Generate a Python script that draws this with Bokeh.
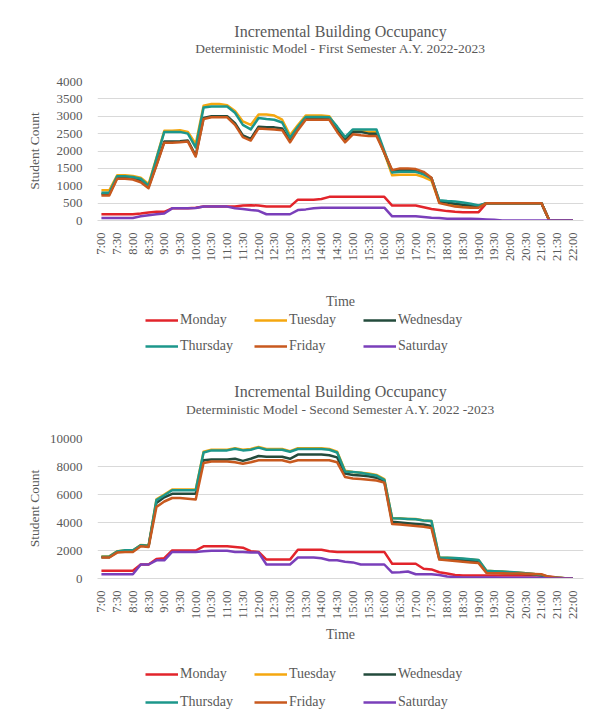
import math
from bokeh.plotting import figure
from bokeh.layouts import column
from bokeh.models import Range1d, FixedTicker, Legend, LegendItem, Label
from bokeh.embed import file_html
from bokeh.resources import INLINE

FONT = "Liberation Serif"
TXT = "#595959"
GRID = "#d9d9d9"

# 15-minute steps from 7:00 (step 0) to 22:00 (step 60)
steps = list(range(61))
tick_steps = list(range(0, 61, 2))
tick_labels = ["7:00", "7:30", "8:00", "8:30", "9:00", "9:30", "10:00", "10:30",
               "11:00", "11:30", "12:00", "12:30", "13:00", "13:30", "14:00", "14:30",
               "15:00", "15:30", "16:00", "16:30", "17:00", "17:30", "18:00", "18:30",
               "19:00", "19:30", "20:00", "20:30", "21:00", "21:30", "22:00"]

days = ["Monday", "Tuesday", "Wednesday", "Thursday", "Friday", "Saturday"]
colors = ["#E2242B", "#F5A70F", "#234B3C", "#1C978B", "#C8591E", "#7A3FBA"]

# ---- First semester ----
s1_monday = [180, 180, 180, 180, 180, 200, 230, 250, 250, 350, 350, 350, 370, 400, 400, 400,
             400, 400, 430, 440, 430, 400, 400, 400, 400, 600, 600, 600, 620, 680, 680, 680,
             680, 680, 680, 680, 680, 430, 430, 430, 430, 380, 330, 300, 270, 250, 240, 240,
             240, 500, 500, 500, 500, 500, 500, 500, 500, 0, 0, 0, 0]
s1_tuesday = [870, 870, 1300, 1300, 1280, 1230, 1050, 1800, 2580, 2580, 2600, 2550, 2200, 3300, 3350, 3350,
              3320, 3150, 2850, 2750, 3050, 3050, 3020, 2900, 2450, 2750, 3020, 3020, 3020, 3000, 2650, 2350,
              2580, 2580, 2550, 2550, 1950, 1300, 1320, 1320, 1320, 1250, 1150, 520, 500, 420, 400, 400,
              400, 500, 500, 500, 500, 500, 500, 500, 500, 0, 0, 0, 0]
s1_wednesday = [760, 760, 1230, 1230, 1220, 1150, 970, 1600, 2270, 2270, 2280, 2300, 1870, 2950, 3000, 3000,
                3000, 2800, 2450, 2350, 2700, 2680, 2680, 2650, 2300, 2650, 2950, 2950, 2950, 2930, 2600, 2300,
                2550, 2550, 2500, 2500, 1950, 1420, 1450, 1450, 1450, 1350, 1220, 550, 520, 480, 450, 430,
                420, 500, 500, 500, 500, 500, 500, 500, 500, 0, 0, 0, 0]
s1_thursday = [800, 800, 1270, 1270, 1250, 1200, 1000, 1780, 2550, 2550, 2550, 2500, 2100, 3250, 3280, 3280,
               3280, 3100, 2750, 2620, 2950, 2920, 2900, 2820, 2380, 2700, 2980, 2980, 2980, 2970, 2700, 2400,
               2620, 2620, 2620, 2620, 2000, 1380, 1400, 1400, 1400, 1330, 1220, 580, 560, 550, 520, 480,
               430, 500, 500, 500, 500, 500, 500, 500, 500, 0, 0, 0, 0]
s1_friday = [720, 720, 1200, 1200, 1180, 1100, 930, 1580, 2240, 2240, 2250, 2270, 1840, 2920, 2970, 2970,
             2970, 2750, 2400, 2300, 2650, 2630, 2620, 2600, 2250, 2600, 2900, 2900, 2900, 2900, 2550, 2250,
             2480, 2450, 2430, 2430, 1950, 1450, 1500, 1500, 1480, 1400, 1230, 500, 450, 400, 380, 370,
             370, 500, 500, 500, 500, 500, 500, 500, 500, 0, 0, 0, 0]
s1_saturday = [70, 70, 70, 70, 70, 120, 150, 180, 200, 350, 350, 350, 360, 400, 400, 400,
               400, 350, 330, 300, 280, 180, 180, 180, 180, 300, 320, 350, 370, 370, 370, 370,
               370, 370, 370, 370, 370, 120, 120, 120, 120, 100, 80, 70, 50, 50, 50, 50,
               40, 30, 20, 0, 0, 0, 0, 0, 0, 0, 0, 0, 0]

# ---- Second semester ----
s2_monday = [550, 550, 550, 550, 550, 1000, 1000, 1400, 1450, 2000, 2000, 2000, 2000, 2300, 2300, 2300,
             2300, 2250, 2200, 1950, 1900, 1350, 1350, 1350, 1350, 2050, 2050, 2050, 2050, 1950, 1900, 1900,
             1900, 1900, 1900, 1900, 1900, 1050, 1050, 1050, 1050, 700, 650, 450, 350, 250, 220, 220,
             220, 220, 220, 220, 220, 220, 220, 220, 220, 150, 80, 0, 0]
s2_tuesday = [1580, 1580, 1950, 2000, 2000, 2400, 2350, 5650, 6000, 6350, 6350, 6350, 6350, 9050, 9200, 9200,
              9200, 9300, 9200, 9250, 9400, 9250, 9250, 9250, 9100, 9300, 9300, 9300, 9300, 9250, 9050, 7700,
              7600, 7550, 7500, 7400, 7100, 4300, 4300, 4250, 4250, 4150, 4100, 1500, 1480, 1450, 1400, 1350,
              1300, 550, 520, 500, 450, 420, 380, 320, 250, 100, 50, 20, 0]
s2_wednesday = [1520, 1520, 1900, 1950, 1950, 2350, 2300, 5400, 5800, 6050, 6050, 6050, 6050, 8450, 8500, 8500,
                8500, 8550, 8400, 8550, 8750, 8700, 8700, 8700, 8550, 8850, 8850, 8850, 8850, 8800, 8650, 7500,
                7400, 7350, 7300, 7200, 6950, 4050, 4000, 3950, 3900, 3850, 3750, 1400, 1380, 1350, 1300, 1250,
                1200, 450, 430, 400, 380, 350, 330, 300, 220, 80, 40, 10, 0]
s2_thursday = [1560, 1560, 1930, 2020, 2020, 2380, 2330, 5600, 5950, 6300, 6300, 6300, 6300, 9000, 9150, 9150,
               9150, 9270, 9150, 9200, 9350, 9200, 9200, 9200, 9050, 9250, 9250, 9250, 9250, 9200, 9000, 7650,
               7600, 7550, 7450, 7350, 7050, 4300, 4280, 4250, 4230, 4150, 4100, 1500, 1480, 1460, 1420, 1380,
               1320, 550, 520, 500, 460, 420, 380, 320, 250, 100, 50, 20, 0]
s2_friday = [1500, 1500, 1850, 1900, 1900, 2300, 2250, 5100, 5500, 5750, 5750, 5700, 5650, 8250, 8350, 8350,
             8350, 8300, 8200, 8300, 8450, 8450, 8450, 8450, 8300, 8450, 8450, 8450, 8450, 8450, 8300, 7250,
             7150, 7100, 7050, 7000, 6850, 3900, 3850, 3800, 3750, 3700, 3600, 1350, 1300, 1250, 1200, 1150,
             1100, 400, 380, 370, 360, 350, 340, 320, 300, 100, 50, 20, 0]
s2_saturday = [300, 300, 300, 300, 300, 1000, 1000, 1300, 1300, 1900, 1900, 1900, 1900, 1950, 1980, 1980,
               1980, 1900, 1900, 1850, 1850, 1000, 1000, 1000, 1000, 1500, 1500, 1500, 1450, 1300, 1300, 1200,
               1150, 1000, 1000, 1000, 1000, 420, 450, 500, 300, 300, 300, 250, 150, 100, 80, 80,
               80, 80, 80, 50, 50, 50, 50, 50, 30, 0, 0, 0, 0]

sem1 = [s1_monday, s1_tuesday, s1_wednesday, s1_thursday, s1_friday, s1_saturday]
sem2 = [s2_monday, s2_tuesday, s2_wednesday, s2_thursday, s2_friday, s2_saturday]

LEFT, RIGHT = 97, 18   # frames of all stacked figures share these borders


def blank(height):
    q = figure(width=601, height=height, output_backend="svg", toolbar_location=None,
               x_range=Range1d(0, 601), y_range=Range1d(0, height),
               min_border=0)
    q.axis.visible = False
    q.grid.visible = False
    q.outline_line_color = None
    q.background_fill_color = "white"
    q.border_fill_color = "white"
    return q


def make_title(height, title, subtitle, title_y, subtitle_y):
    q = blank(height)
    q.add_layout(Label(x=300.5, y=height - title_y, text=title, text_align="center",
                       text_baseline="middle", text_font=FONT, text_font_size="16px",
                       text_color=TXT))
    q.add_layout(Label(x=300.5, y=height - subtitle_y, text=subtitle, text_align="center",
                       text_baseline="middle", text_font=FONT, text_font_size="13.5px",
                       text_color=TXT))
    return q


def make_chart(series, ymax, yticks, height, top, bottom, time_standoff, ylab_standoff):
    p = figure(width=601, height=height, output_backend="svg", toolbar_location=None,
               x_range=Range1d(-0.5, 61.35), y_range=Range1d(0, ymax),
               min_border_left=LEFT, min_border_right=RIGHT,
               min_border_top=top, min_border_bottom=bottom)
    p.outline_line_color = None
    p.background_fill_color = "white"
    p.border_fill_color = "white"

    p.xgrid.grid_line_color = None
    p.ygrid.grid_line_color = GRID
    p.ygrid.grid_line_width = 1

    ya = p.yaxis[0]
    ya.ticker = FixedTicker(ticks=yticks)
    ya.axis_line_color = None
    ya.major_tick_line_color = None
    ya.minor_tick_line_color = None
    ya.major_label_text_font = FONT
    ya.major_label_text_font_size = "13px"
    ya.major_label_text_color = TXT
    ya.major_label_standoff = 9
    ya.axis_label = "Student Count"
    ya.axis_label_text_font = FONT
    ya.axis_label_text_font_size = "13.5px"
    ya.axis_label_text_font_style = "normal"
    ya.axis_label_text_color = TXT
    ya.axis_label_standoff = ylab_standoff

    xa = p.xaxis[0]
    xa.ticker = FixedTicker(ticks=tick_steps)
    xa.major_label_overrides = {s: lab for s, lab in zip(tick_steps, tick_labels)}
    xa.major_label_orientation = math.pi / 2
    xa.axis_line_color = GRID
    xa.major_tick_line_color = None
    xa.minor_tick_line_color = None
    xa.major_label_text_font = FONT
    xa.major_label_text_font_size = "12.5px"
    xa.major_label_text_color = TXT
    xa.major_label_standoff = 6
    xa.axis_label = "Time"
    xa.axis_label_text_font = FONT
    xa.axis_label_text_font_size = "14px"
    xa.axis_label_text_font_style = "normal"
    xa.axis_label_text_color = TXT
    xa.axis_label_standoff = time_standoff

    for name, col, vals in zip(days, colors, series):
        p.line(steps, vals, line_width=2.5, line_color=col, line_join="round")
    return p


def make_legend(series, height, row1_bottom, row2_bottom):
    # legend strip; its series lie outside the strip's own (pixel) ranges
    q = blank(height)
    q.x_range = Range1d(-1000, -900)
    items = []
    for name, col, vals in zip(days, colors, series):
        r = q.line(steps, vals, line_width=2.5, line_color=col)
        items.append(LegendItem(label=name, renderers=[r]))
    for row_items, vy in ((items[:3], row1_bottom), (items[3:], row2_bottom)):
        leg = Legend(items=row_items, orientation="horizontal", location=(145 - LEFT, vy),
                     label_text_font=FONT, label_text_font_size="14px", label_text_color=TXT,
                     glyph_width=33, glyph_height=16, label_standoff=2, label_width=74,
                     spacing=0, padding=0, margin=0, border_line_color=None,
                     background_fill_alpha=0)
        q.add_layout(leg)
    return q


t1 = make_title(60, "Incremental Building Occupancy",
                "Deterministic Model - First Semester A.Y. 2022-2023", 31, 48)
p1 = make_chart(sem1, 4000, list(range(0, 4001, 500)), 252, 21, 92, 30, 12)
l1 = make_legend(sem1, 48, 32, 6)

t2 = make_title(58, "Incremental Building Occupancy",
                "Deterministic Model - Second Semester A.Y. 2022 -2023", 31, 49)
p2 = make_chart(sem2, 10000, list(range(0, 10001, 2000)), 242, 20, 82, 5, 5)
l2 = make_legend(sem2, 60, 38, 10)

layout = column(t1, p1, l1, t2, p2, l2, spacing=0)
open("out.html", "w").write(file_html(layout, INLINE))
